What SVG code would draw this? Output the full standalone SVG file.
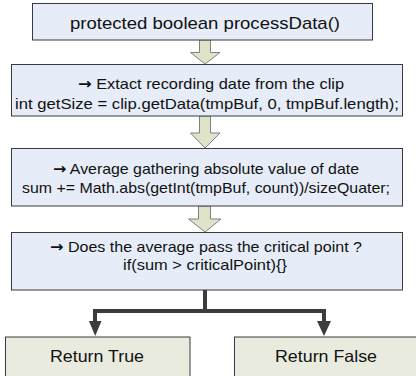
<svg xmlns="http://www.w3.org/2000/svg" width="416" height="376" viewBox="0 0 416 376">
<defs>
<style>
.box{fill:#e6ecf8;stroke:#3a3a3a;stroke-width:1}
.res{fill:#eaebdf;stroke:#3a3a3a;stroke-width:1}
.blk{fill:#dfe3c9;stroke:#808080;stroke-width:1}
text{font-family:"Liberation Sans",Arial,sans-serif;fill:#111;text-anchor:middle}
.ar{font-family:"DejaVu Sans",sans-serif;font-weight:bold}
.t1{font-size:17px}
.t2{font-size:15px}
.t3{font-size:16.5px}
.con{fill:none;stroke:#3c3c3c;stroke-width:4}
</style>
</defs>
<rect x="0" y="0" width="416" height="376" fill="#ffffff"/>
<g id="connectors">
<path class="blk" d="M199.5,40 H210.5 V52.5 H220 L205,64 L190.5,52.5 H199.5 Z"/>
<path class="blk" d="M199.5,116 H210.5 V133 H220 L205,148 L190.5,133 H199.5 Z"/>
<path class="blk" d="M198.5,206 H210.5 V219 H221 L205,232 L188.5,219 H198.5 Z"/>
<path class="con" d="M205,290 V311 H95 V322"/>
<path class="con" d="M205,311 H324 V322"/>
<path d="M89,321 H101.5 L95.2,336 Z" fill="#3c3c3c"/>
<path d="M317,321 H331 L324,336 Z" fill="#3c3c3c"/>
</g>
<g id="n1">
<rect class="box" x="32.5" y="3.5" width="340" height="36.5"/>
<text class="t1" x="205" y="29" textLength="270" lengthAdjust="spacingAndGlyphs">protected boolean processData()</text>
</g>
<g id="n2">
<rect class="box" x="11.5" y="64.5" width="391" height="51.5"/>
<text class="t2" x="211" y="89" textLength="266" lengthAdjust="spacingAndGlyphs"><tspan class="ar">→</tspan> Extact recording date from the clip</text>
<text class="t2" x="207" y="109" textLength="384" lengthAdjust="spacingAndGlyphs">int getSize = clip.getData(tmpBuf, 0, tmpBuf.length);</text>
</g>
<g id="n3">
<rect class="box" x="11.5" y="148.5" width="391" height="57.5"/>
<text class="t2" x="206" y="174" textLength="306" lengthAdjust="spacingAndGlyphs"><tspan class="ar">→</tspan> Average gathering absolute value of date</text>
<text class="t2" x="206" y="193" textLength="368" lengthAdjust="spacingAndGlyphs">sum += Math.abs(getInt(tmpBuf, count))/sizeQuater;</text>
</g>
<g id="n4">
<rect class="box" x="11.5" y="232.5" width="391" height="57.5"/>
<text class="t2" x="206" y="252" textLength="312" lengthAdjust="spacingAndGlyphs"><tspan class="ar">→</tspan> Does the average pass the critical point ?</text>
<text class="t2" x="205" y="270" textLength="164" lengthAdjust="spacingAndGlyphs">if(sum &gt; criticalPoint){}</text>
</g>
<g id="n5">
<rect class="res" x="5.5" y="337" width="184.5" height="45"/>
<text class="t3" x="97" y="362" textLength="94" lengthAdjust="spacingAndGlyphs">Return True</text>
</g>
<g id="n6">
<rect class="res" x="234.5" y="337" width="190" height="45"/>
<text class="t3" x="326" y="362" textLength="102" lengthAdjust="spacingAndGlyphs">Return False</text>
</g>
</svg>
